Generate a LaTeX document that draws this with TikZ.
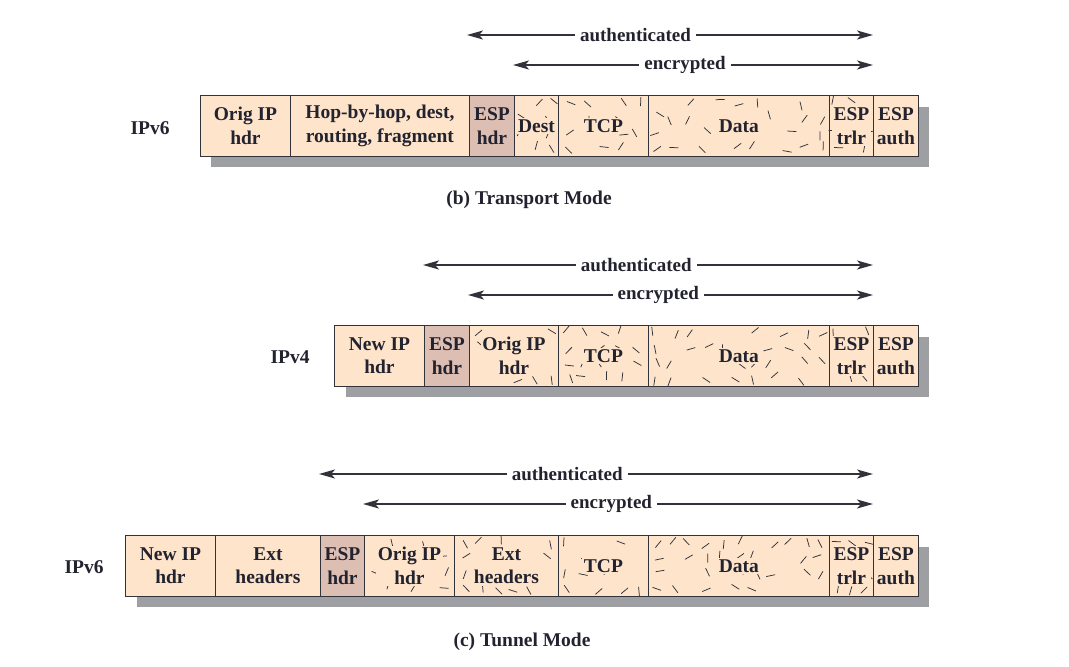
\documentclass[tikz,border=0pt]{standalone}
\usepackage{fontspec}
\setmainfont{Liberation Serif}
\usetikzlibrary{arrows.meta}
\definecolor{peach}{RGB}{253,228,203}
\definecolor{espc}{RGB}{221,190,178}
\definecolor{shadowc}{RGB}{158,159,163}
\definecolor{bordc}{RGB}{50,50,58}
\definecolor{textc}{RGB}{35,35,48}
\tikzset{
  fld/.style={draw=bordc, fill=peach, line width=0.9pt, minimum height=61, inner sep=0, anchor=north west},
  espf/.style={fld, fill=espc},
  shad/.style={fill=shadowc, draw=none},
  txt/.style={font=\fontsize{19.5}{23.5}\selectfont\bfseries, text=textc, align=center, inner sep=1.5pt},
  enctxt/.style={txt, fill=peach},
  lbl/.style={font=\fontsize{19.5}{23.5}\selectfont\bfseries, text=textc},
  rng/.style={draw=bordc, line width=1.8pt, {Stealth[length=16pt,width=9pt,inset=4pt]}-{Stealth[length=16pt,width=9pt,inset=4pt]}},
  rnglbl/.style={font=\fontsize{19}{23}\selectfont\bfseries, text=textc, fill=white, inner xsep=5pt, inner ysep=1pt},
  hatchln/.style={draw=bordc, line width=0.75pt},
}
\newcommand\hatchfield[4]{% x1 x2 y1 y2
  \pgfmathtruncatemacro\ncol{max(1,round((#2-#1)/17))}
  \pgfmathsetmacro\cw{(#2-#1)/\ncol}
  \foreach \ci in {1,...,\ncol}{
    \foreach \cj in {1,...,4}{
      \pgfmathsetmacro\mx{#1+(\ci-0.5)*\cw+rand*0.25*\cw}
      \pgfmathsetmacro\my{#3+(\cj-0.5)*(#4-#3)/4+rand*3.5}
      \pgfmathsetmacro\ma{rnd*180}
      \pgfmathtruncatemacro\keep{rnd<0.55 ? 1 : 0}
      \ifnum\keep=1
        \draw[hatchln] (\mx,\my) ++(\ma:-4.5) -- ++(\ma:9);
      \fi
    }}}
\begin{document}
\begin{tikzpicture}[x=1pt,y=-1pt]
\useasboundingbox (0,0) rectangle (1069,667);
\pgfmathsetseed{11}

% ===== (b) Transport mode =====
\fill[shad] (211,107) rectangle (929,167);
\node[fld, minimum width=90] (b1) at (200,95) {};
\node[fld, minimum width=179] (b2) at (290,95) {};
\node[espf, minimum width=45] (b3) at (469,95) {};
\node[fld, minimum width=44] (b4) at (514,95) {};
\node[fld, minimum width=90] (b5) at (558,95) {};
\node[fld, minimum width=181] (b6) at (648,95) {};
\node[fld, minimum width=44] (b7) at (829,95) {};
\node[fld, minimum width=45] (b8) at (873,95) {};
\hatchfield{514}{558}{95}{156}
\hatchfield{558}{648}{95}{156}
\hatchfield{648}{829}{95}{156}
\hatchfield{829}{873}{95}{156}
\node[txt] (tb1) at (b1.center) {Orig IP\\hdr};
\node[txt] (tb2) at (b2.center) {Hop-by-hop, dest,\\routing, fragment};
\node[txt] (tb3) at (b3.center) {ESP\\hdr};
\node[enctxt] (tb4) at (b4.center) {Dest};
\node[enctxt] (tb5) at (b5.center) {TCP};
\node[enctxt] (tb6) at (b6.center) {Data};
\node[enctxt] (tb7) at (b7.center) {ESP\\trlr};
\node[txt] (tb8) at (b8.center) {ESP\\auth};
\node[lbl] (lb) at (150,128) {IPv6};
\coordinate (ba1) at (467,35); \coordinate (ba2) at (873,35);
\coordinate (be1) at (513,65); \coordinate (be2) at (873,65);
\draw[rng] (ba1) -- node[rnglbl, pos=0.415] (lba) {authenticated} (ba2);
\draw[rng] (be1) -- node[rnglbl, pos=0.478] (lbe) {encrypted} (be2);
\node[lbl] (capb) at (529,200) {(b) Transport Mode};

% ===== (c) Tunnel mode IPv4 =====
\fill[shad] (346,337) rectangle (929,397);
\node[fld, minimum width=90] (c1) at (334,325) {};
\node[espf, minimum width=45] (c2) at (424,325) {};
\node[fld, minimum width=89] (c3) at (469,325) {};
\node[fld, minimum width=90] (c4) at (558,325) {};
\node[fld, minimum width=181] (c5) at (648,325) {};
\node[fld, minimum width=44] (c6) at (829,325) {};
\node[fld, minimum width=45] (c7) at (873,325) {};
\hatchfield{469}{558}{325}{386}
\hatchfield{558}{648}{325}{386}
\hatchfield{648}{829}{325}{386}
\hatchfield{829}{873}{325}{386}
\node[txt] (tc1) at (c1.center) {New IP\\hdr};
\node[txt] (tc2) at (c2.center) {ESP\\hdr};
\node[enctxt] (tc3) at (c3.center) {Orig IP\\hdr};
\node[enctxt] (tc4) at (c4.center) {TCP};
\node[enctxt] (tc5) at (c5.center) {Data};
\node[enctxt] (tc6) at (c6.center) {ESP\\trlr};
\node[txt] (tc7) at (c7.center) {ESP\\auth};
\node[lbl] (lc) at (290,357) {IPv4};
\coordinate (ca1) at (423,265); \coordinate (ca2) at (873,265);
\coordinate (ce1) at (468,295); \coordinate (ce2) at (873,295);
\draw[rng] (ca1) -- node[rnglbl, pos=0.474] (lca) {authenticated} (ca2);
\draw[rng] (ce1) -- node[rnglbl, pos=0.47] (lce) {encrypted} (ce2);

% ===== (c) Tunnel mode IPv6 =====
\fill[shad] (137,547) rectangle (929,607);
\node[fld, minimum width=90] (d1) at (125,535) {};
\node[fld, minimum width=105] (d2) at (215,535) {};
\node[espf, minimum width=44] (d3) at (320,535) {};
\node[fld, minimum width=90] (d4) at (364,535) {};
\node[fld, minimum width=104] (d5) at (454,535) {};
\node[fld, minimum width=90] (d6) at (558,535) {};
\node[fld, minimum width=181] (d7) at (648,535) {};
\node[fld, minimum width=44] (d8) at (829,535) {};
\node[fld, minimum width=45] (d9) at (873,535) {};
\hatchfield{364}{454}{535}{596}
\hatchfield{454}{558}{535}{596}
\hatchfield{558}{648}{535}{596}
\hatchfield{648}{829}{535}{596}
\hatchfield{829}{873}{535}{596}
\node[txt] (td1) at (d1.center) {New IP\\hdr};
\node[txt] (td2) at (d2.center) {Ext\\headers};
\node[txt] (td3) at (d3.center) {ESP\\hdr};
\node[enctxt] (td4) at (d4.center) {Orig IP\\hdr};
\node[enctxt] (td5) at (d5.center) {Ext\\headers};
\node[enctxt] (td6) at (d6.center) {TCP};
\node[enctxt] (td7) at (d7.center) {Data};
\node[enctxt] (td8) at (d8.center) {ESP\\trlr};
\node[txt] (td9) at (d9.center) {ESP\\auth};
\node[lbl] (ld) at (84,567) {IPv6};
\coordinate (da1) at (319,474); \coordinate (da2) at (873,474);
\coordinate (de1) at (363,504); \coordinate (de2) at (873,504);
\draw[rng] (da1) -- node[rnglbl, pos=0.448] (lda) {authenticated} (da2);
\draw[rng] (de1) -- node[rnglbl, pos=0.487] (lde) {encrypted} (de2);
\node[lbl] (capc) at (522,642) {(c) Tunnel Mode};
\end{tikzpicture}
\end{document}
